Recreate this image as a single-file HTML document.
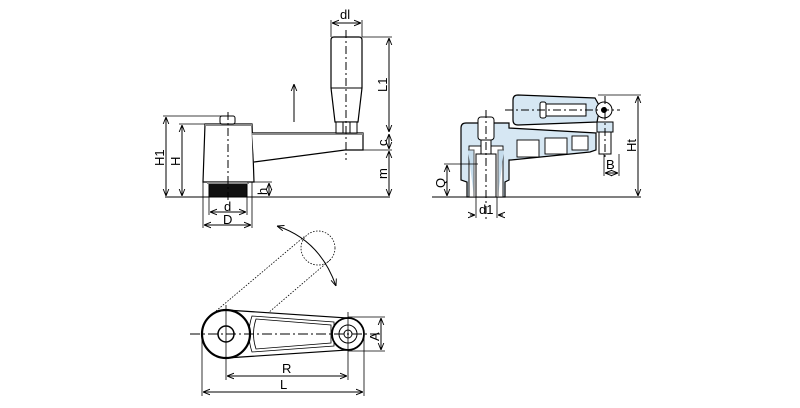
<!DOCTYPE html>
<html><head><style>
html,body{margin:0;padding:0;background:#fff;}
svg{display:block;}
text{font-family:"Liberation Sans",sans-serif;font-size:13px;fill:#000;}
</style></head><body>
<svg width="800" height="408" viewBox="0 0 800 408" xmlns="http://www.w3.org/2000/svg">
<defs>
<marker id="a" viewBox="0 0 10 10" refX="10" refY="5" markerWidth="7" markerHeight="7" orient="auto-start-reverse"><path d="M0,1 L10,5 L0,9" fill="none" stroke="#000" stroke-width="1.3"/></marker>
</defs>
<g stroke="#000" stroke-width="1" fill="none">
<!-- LEFT VIEW -->
<line x1="165" y1="197" x2="390" y2="197"/>
<!-- hub -->
<path d="M205,124 L252,124 L254,182 L203,182 Z" fill="#fff" stroke-width="1.2"/>
<line x1="205" y1="125" x2="252" y2="125" stroke="#888" stroke-width="2"/>
<rect x="209" y="183" width="38" height="14" fill="#111"/>
<line x1="207" y1="183" x2="249" y2="183" stroke="#888" stroke-width="2"/>
<rect x="220" y="116" width="15" height="8" rx="2" fill="#fff"/>
<!-- arm -->
<path d="M252,133 L363,133 L363,150 L345,150 L254,162" fill="#fff" stroke-width="1.2"/>
<line x1="252" y1="134" x2="363" y2="134" stroke="#888" stroke-width="2"/>
<!-- handle -->
<path d="M331,40 Q331,37 334,37 L359,37 Q362,37 362,40 L362,88 L358,122 L335,122 L331,88 Z" fill="#fff" stroke-width="1.2"/>
<line x1="331" y1="88" x2="362" y2="88"/>
<rect x="336" y="122" width="21" height="11" fill="#fff"/>
<line x1="343" y1="122" x2="343" y2="133"/><line x1="350" y1="122" x2="350" y2="133"/>
<!-- center lines -->
<line x1="228" y1="112" x2="228" y2="200" stroke-dasharray="8,3,2,3"/>
<line x1="346" y1="30" x2="346" y2="160" stroke-dasharray="8,3,2,3"/>
<!-- arrow -->
<line x1="294" y1="122" x2="294" y2="84" marker-end="url(#a)"/>
<!-- dims -->
<line x1="163" y1="116" x2="222" y2="116" stroke-width=".8"/>
<line x1="179" y1="124" x2="205" y2="124" stroke-width=".8"/>
<line x1="166" y1="117" x2="166" y2="196" marker-start="url(#a)" marker-end="url(#a)"/>
<line x1="182" y1="125" x2="182" y2="196" marker-start="url(#a)" marker-end="url(#a)"/>
<line x1="362" y1="37" x2="392" y2="37" stroke-width=".8"/>
<line x1="363" y1="150" x2="392" y2="150" stroke-width=".8"/>
<line x1="389" y1="38" x2="389" y2="132" marker-start="url(#a)" marker-end="url(#a)"/>
<line x1="389" y1="134" x2="389" y2="149" marker-start="url(#a)" marker-end="url(#a)"/>
<line x1="389" y1="151" x2="389" y2="196" marker-start="url(#a)" marker-end="url(#a)"/>
<line x1="331" y1="20" x2="331" y2="37" stroke-width=".8"/>
<line x1="362" y1="20" x2="362" y2="37" stroke-width=".8"/>
<line x1="332" y1="23" x2="361" y2="23" marker-start="url(#a)" marker-end="url(#a)"/>
<line x1="247" y1="182" x2="272" y2="182" stroke-width=".8"/>
<line x1="269" y1="183" x2="269" y2="196" marker-start="url(#a)" marker-end="url(#a)"/>
<line x1="209" y1="197" x2="209" y2="215" stroke-width=".8"/>
<line x1="247" y1="197" x2="247" y2="215" stroke-width=".8"/>
<line x1="210" y1="212" x2="246" y2="212" marker-start="url(#a)" marker-end="url(#a)"/>
<line x1="203" y1="182" x2="203" y2="228" stroke-width=".8"/>
<line x1="252" y1="182" x2="252" y2="228" stroke-width=".8"/>
<line x1="204" y1="225" x2="251" y2="225" marker-start="url(#a)" marker-end="url(#a)"/>

<!-- RIGHT VIEW -->
<line x1="432" y1="197" x2="641" y2="197"/>
<path d="M461,128 Q461,123 466,123 L509,123 L509,128 L596,133 L596,150 L590,152 L511,160 L509,160 L509,180 L505,182 L505,197 L467,197 L467,182 L461,180 Z" fill="#d6e7f3" stroke-width="1.2"/>
<g fill="#fff" stroke-width=".9">
<rect x="517" y="140" width="22" height="17"/><rect x="545" y="138" width="22" height="16"/><rect x="572" y="136" width="16" height="14"/>
<rect x="469" y="146" width="34" height="51"/>
</g>
<path d="M468,150 L474,150 L474,197 M504,150 L498,150 L498,197" stroke="#555" fill="#c5dcec"/>
<rect x="476" y="154" width="20" height="43" fill="#fff"/>
<rect x="481" y="140" width="10" height="14" fill="#fff"/>
<rect x="478" y="117" width="16" height="23" rx="3" fill="#fff"/>
<path d="M513,100 Q513,95 518,95 L595,98 L600,107 L597,122 L518,125 Q513,125 513,120 Z" fill="#d6e7f3" stroke-width="1.2"/>
<rect x="540" y="102" width="6" height="16" rx="2" fill="#fff"/>
<rect x="546" y="104" width="40" height="12" fill="#fff"/>
<circle cx="604" cy="110" r="8" fill="#fff"/>
<circle cx="604" cy="110" r="2.5" fill="#000"/>
<rect x="597" y="122" width="16" height="10" fill="#d6e7f3"/>
<rect x="599" y="132" width="12" height="22" fill="#fff"/>
<line x1="505" y1="110" x2="620" y2="110" stroke-dasharray="8,3,2,3"/>
<line x1="486" y1="110" x2="486" y2="220" stroke-dasharray="8,3,2,3"/>
<line x1="605" y1="96" x2="605" y2="160" stroke-dasharray="8,3,2,3"/>
<line x1="598" y1="95" x2="641" y2="95" stroke-width=".8"/>
<line x1="638" y1="96" x2="638" y2="196" marker-start="url(#a)" marker-end="url(#a)"/>
<line x1="444" y1="164" x2="478" y2="164" stroke-width=".8"/>
<line x1="447" y1="165" x2="447" y2="196" marker-start="url(#a)" marker-end="url(#a)"/>
<line x1="476" y1="197" x2="476" y2="218" stroke-width=".8"/>
<line x1="497" y1="197" x2="497" y2="218" stroke-width=".8"/>
<line x1="470" y1="215" x2="475" y2="215" marker-end="url(#a)"/>
<line x1="503" y1="215" x2="498" y2="215" marker-end="url(#a)"/>
<line x1="604" y1="154" x2="604" y2="176" stroke-width=".8"/>
<line x1="619" y1="154" x2="619" y2="176" stroke-width=".8"/>
<line x1="605" y1="173" x2="618" y2="173" marker-start="url(#a)" marker-end="url(#a)"/>

<!-- BOTTOM VIEW -->
<g stroke-dasharray="1.5,1.5" stroke-width=".8">
<circle cx="318" cy="248" r="17"/>
<line x1="216" y1="311" x2="305" y2="236"/>
<line x1="247" y1="331" x2="330" y2="260"/>
</g>
<path d="M277,226 Q320,240 336,286" marker-start="url(#a)" marker-end="url(#a)"/>
<path d="M226,310 L348,318 L348,350 L226,358" fill="#fff" stroke-width="1.2"/>
<path d="M252,316 L334,322 L334,346 L252,352 Q246,334 252,316 Z" stroke-width=".8"/>
<path d="M256,319 L331,325 L331,343 L256,349 Q251,334 256,319 Z" stroke-width=".8"/>
<circle cx="226" cy="334" r="24" fill="#fff" stroke-width="2.2"/>
<circle cx="226" cy="334" r="8" stroke-width="1.5"/>
<circle cx="348" cy="334" r="16" fill="#fff" stroke-width="1.8"/>
<circle cx="348" cy="334" r="9"/>
<circle cx="348" cy="334" r="4"/>
<line x1="190" y1="334" x2="382" y2="334" stroke-dasharray="10,3,2,3"/>
<line x1="226" y1="305" x2="226" y2="380" stroke-width=".8"/>
<line x1="348" y1="312" x2="348" y2="380" stroke-width=".8"/>
<line x1="202" y1="334" x2="202" y2="396" stroke-width=".8"/>
<line x1="364" y1="334" x2="364" y2="396" stroke-width=".8"/>
<line x1="227" y1="376" x2="347" y2="376" marker-start="url(#a)" marker-end="url(#a)"/>
<line x1="203" y1="392" x2="363" y2="392" marker-start="url(#a)" marker-end="url(#a)"/>
<line x1="348" y1="317" x2="385" y2="317" stroke-width=".8"/>
<line x1="348" y1="351" x2="385" y2="351" stroke-width=".8"/>
<line x1="381" y1="318" x2="381" y2="350" marker-start="url(#a)" marker-end="url(#a)"/>
</g>
<!-- labels -->
<text x="340" y="19">dl</text>
<text transform="translate(387,92) rotate(-90)">L1</text>
<text transform="translate(387,146) rotate(-90)">c</text>
<text transform="translate(387,179) rotate(-90)">m</text>
<text transform="translate(164,166) rotate(-90)">H1</text>
<text transform="translate(180,166) rotate(-90)">H</text>
<text transform="translate(267,195) rotate(-90)">h</text>
<text x="224" y="211">d</text>
<text x="223" y="224">D</text>
<text transform="translate(636,152) rotate(-90)">Ht</text>
<text transform="translate(445,188) rotate(-90)">Q</text>
<text x="479" y="214">d1</text>
<text x="606" y="169">B</text>
<text x="282" y="373">R</text>
<text x="280" y="389">L</text>
<text transform="translate(379,341) rotate(-90)">A</text>
</svg>
</body></html>
